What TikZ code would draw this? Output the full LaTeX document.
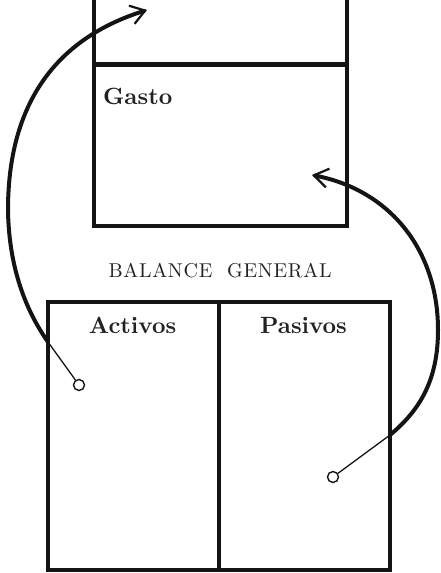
\documentclass[tikz,border=0pt]{standalone}
\usepackage{fontspec}
\usetikzlibrary{arrows.meta}
\definecolor{ink}{HTML}{141414}
\definecolor{textink}{HTML}{222222}
\newfontfamily\headfont{lmroman10-bold}[Extension=.otf]
\newfontfamily\titlefont{lmroman10-regular}[Extension=.otf, LetterSpace=3.5]

\begin{document}
\begin{tikzpicture}[x=1pt, y=-1pt,
    box/.style={draw=ink, line width=3.6pt},
    label/.style={text=textink, font=\headfont\fontsize{23.5}{28}\selectfont, inner sep=0pt},
    hole/.style={circle, draw=ink, line width=1.4pt, minimum size=11pt, inner sep=0pt},
    tail/.style={draw=ink, line width=1.3pt},
    link/.style={draw=ink, line width=4pt, line cap=round,
        -{Straight Barb[length=14pt, width=19pt, line width=2.2pt]}}]

    % Frame
    \useasboundingbox (0,0) rectangle (441,573);
    \clip (0,0) rectangle (441,573);

    % Upper account (its top runs off the page)
    \draw[box] (94,-10) -- (94,226) -- (347,226) -- (347,-10);
    \draw[box, line width=4.8pt] (94,64.5) -- (347,64.5);
    \node[label, anchor=base west] (gasto) at (103,104) {Gasto};

    % Balance sheet
    \node[text=textink, font=\titlefont\fontsize{20}{24}\selectfont,
        inner sep=0pt, anchor=base] (title) at (220,277) {BALANCE\ \ GENERAL};
    \draw[box] (48,302) rectangle (390,570);
    \draw[box, line width=4pt] (219,302) -- (219,570);
    \node[label, anchor=base] (act) at (132.5,333) {Activos};
    \node[label, anchor=base] (pas) at (303.5,333) {Pasivos};

    % Start points and ends of the arrows
    \node[hole] (actdot) at (79,385) {};
    \node[hole] (pasdot) at (333,477) {};
    \coordinate (actedge) at (48,342);
    \coordinate (actleft) at (8,210);
    \coordinate (upperin) at (147,10);
    \coordinate (pasedge) at (390,435);
    \coordinate (pasright) at (438,330);
    \coordinate (gastoin) at (312,175);

    % Arrows
    \draw[tail] (actdot) -- (actedge);
    \draw[link] (actedge) .. controls (34,322) and (9,280) .. (actleft)
        .. controls (8,130) and (35,45) .. (upperin);
    \draw[tail] (pasdot) -- (pasedge);
    \draw[link] (pasedge) .. controls (420,410) and (438,380) .. (pasright)
        .. controls (438,250) and (390,190) .. (gastoin);
\end{tikzpicture}
\end{document}
